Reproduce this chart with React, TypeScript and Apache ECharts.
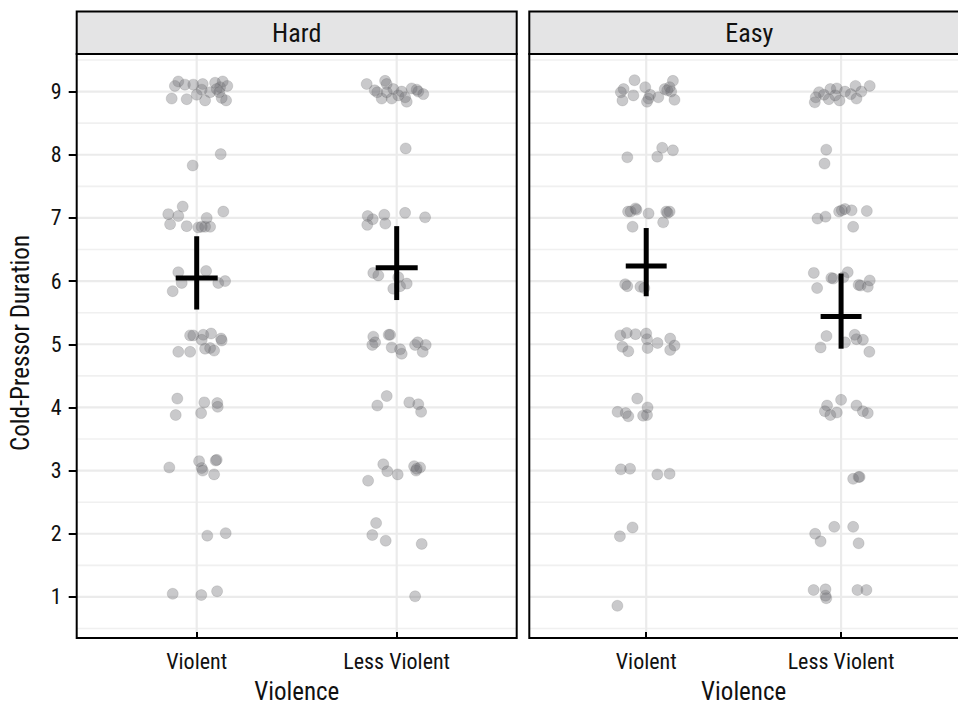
import React, { useEffect, useRef } from 'react';
import * as echarts from 'echarts';

// ---------- data ----------
const FACETS = ['Hard', 'Easy'];
const CATEGORIES = ['Violent', 'Less Violent'];
const Y_TICKS = [1, 2, 3, 4, 5, 6, 7, 8, 9];
const Y_MINOR = [0.5, 1.5, 2.5, 3.5, 4.5, 5.5, 6.5, 7.5, 8.5, 9.5];
const X_TITLE = 'Violence';
const Y_TITLE = 'Cold-Pressor Duration';

// jitter offsets (from category centre) and values
const hardViolentOffset = [-0.092, -0.109, -0.059, -0.017, 0.03, 0.025, 0.092, 0.13, 0.117, 0.153, 0.067, 0, -0.125, -0.05, 0.042, 0.125, 0.147, 0.113, 0.1, 0.12, -0.02, -0.07, -0.142, -0.092, -0.133, -0.05, 0.008, 0.042, 0.067, 0.05, 0.133, 0.025, -0.092, 0.047, -0.075, -0.12, 0.108, 0.142, -0.033, -0.017, 0.033, 0.072, 0.122, 0.125, 0.025, -0.092, -0.033, 0.042, 0.067, 0.087, -0.097, 0.038, 0.103, 0.105, -0.105, 0.022, -0.137, 0.012, 0.025, 0.03, 0.1, 0.095, 0.087, 0.053, 0.145, -0.12, 0.023, 0.102];
const hardViolentValue = [9.16, 9.09, 9.11, 9.11, 9.12, 9.03, 9.14, 9.16, 9.07, 9.09, 8.99, 8.95, 8.89, 8.88, 8.86, 8.9, 8.86, 8.99, 9.04, 8.01, 7.83, 7.18, 7.06, 7.03, 6.9, 6.87, 6.85, 6.86, 6.86, 7.0, 7.1, 6.86, 6.14, 6.16, 5.97, 5.84, 5.97, 6.0, 5.14, 5.14, 5.15, 5.17, 5.09, 5.06, 5.07, 4.88, 4.88, 4.93, 4.94, 4.9, 4.14, 4.08, 4.07, 4.01, 3.88, 3.91, 3.05, 3.15, 3.04, 3.0, 3.17, 3.16, 2.94, 1.97, 2.01, 1.05, 1.03, 1.09];

const hardLessOffset = [-0.15, -0.058, -0.05, -0.097, -0.075, -0.017, -0.025, 0.025, 0.05, 0.075, 0.108, 0.133, -0.11, 0.008, 0.042, -0.05, 0.1, 0.045, -0.145, -0.12, -0.147, -0.062, -0.057, 0.042, 0.142, -0.117, -0.092, 0.008, -0.017, 0.017, 0.05, -0.117, -0.108, -0.122, -0.033, -0.04, -0.025, 0.017, 0.025, 0.092, 0.105, 0.145, 0.13, -0.05, -0.097, 0.063, 0.108, 0.122, -0.067, -0.047, 0.005, -0.143, 0.087, 0.097, 0.117, 0.1, -0.103, -0.122, -0.055, 0.125, 0.092];
const hardLessValue = [9.12, 9.17, 9.12, 8.99, 8.89, 9.04, 8.89, 9.0, 8.84, 9.05, 9.0, 8.96, 9.02, 8.94, 8.91, 8.99, 9.03, 8.1, 7.03, 6.98, 6.89, 7.05, 6.91, 7.08, 7.01, 6.13, 6.09, 6.06, 5.88, 5.92, 5.96, 5.12, 5.03, 4.99, 5.15, 5.15, 4.95, 4.92, 4.85, 4.99, 5.03, 4.99, 4.88, 4.18, 4.03, 4.08, 4.05, 3.93, 3.1, 2.99, 2.94, 2.84, 3.07, 3.0, 3.05, 3.03, 2.17, 1.98, 1.89, 1.84, 1.01];

const easyViolentOffset = [-0.06, -0.116, -0.13, -0.122, -0.066, -0.005, 0.02, 0.004, 0.062, 0.095, 0.137, 0.12, 0.128, 0.145, 0.108, 0.012, -0.097, 0.057, 0.082, 0.137, -0.093, -0.08, -0.055, -0.05, 0.012, -0.07, 0.087, 0.103, 0.12, 0.11, -0.108, -0.097, -0.03, -0.01, -0.133, -0.1, -0.055, 0, 0.004, -0.122, -0.092, 0.007, 0.058, 0.123, 0.145, 0.123, -0.046, -0.147, -0.105, -0.092, -0.016, 0.007, 0.004, -0.13, -0.083, 0.057, 0.12, -0.07, -0.135, -0.148];
const easyViolentValue = [9.18, 9.04, 8.99, 8.86, 8.94, 9.07, 8.95, 8.84, 8.91, 9.04, 9.17, 9.07, 9.0, 8.87, 9.02, 8.89, 7.96, 7.97, 8.11, 8.07, 7.1, 7.1, 7.15, 7.13, 7.07, 6.86, 6.93, 7.1, 7.1, 7.08, 5.95, 5.92, 5.91, 5.89, 5.14, 5.18, 5.16, 5.17, 5.08, 4.96, 4.89, 4.94, 5.02, 5.09, 4.98, 4.91, 4.14, 3.93, 3.91, 3.86, 3.87, 4.0, 3.88, 3.02, 3.03, 2.94, 2.95, 2.1, 1.96, 0.86];

const easyLessOffset = [-0.135, -0.113, -0.088, -0.063, -0.055, -0.022, -0.03, -0.008, 0.02, 0.05, 0.074, 0.079, 0.104, 0.147, -0.13, -0.076, -0.085, -0.121, -0.08, -0.01, 0.004, 0.02, 0.054, 0.132, 0.062, -0.14, -0.123, -0.05, -0.04, 0.034, 0.012, 0.09, 0.137, 0.147, 0.1, -0.075, -0.105, 0.02, 0.07, 0.079, 0.112, 0.145, -0.072, -0.083, -0.055, -0.022, 0, 0.079, 0.112, 0.137, 0.062, 0.09, 0.095, -0.133, -0.105, -0.035, 0.062, 0.09, -0.141, -0.08, -0.08, -0.076, 0.084, 0.13];
const easyLessValue = [8.83, 8.99, 8.95, 8.88, 9.04, 9.05, 8.94, 8.86, 9.0, 8.96, 9.09, 8.89, 9.0, 9.09, 8.91, 8.08, 7.86, 6.99, 7.02, 7.1, 7.12, 7.14, 7.12, 7.11, 6.86, 6.13, 5.89, 6.05, 6.04, 6.14, 6.06, 5.94, 5.91, 6.01, 5.93, 5.13, 4.95, 5.03, 5.15, 5.08, 5.07, 4.88, 4.03, 3.94, 3.88, 3.92, 4.12, 4.03, 3.94, 3.91, 2.87, 2.9, 2.9, 2.0, 1.88, 2.11, 2.11, 1.85, 1.11, 1.12, 1.02, 0.98, 1.11, 1.11];

// summary (mean and interval) per category: [Violent, Less Violent]
const hardMean = [6.05, 6.21];
const hardLow = [5.55, 5.7];
const hardHigh = [6.71, 6.87];
const easyMean = [6.24, 5.44];
const easyLow = [5.76, 4.93];
const easyHigh = [6.84, 6.12];

// ---------- layout / style ----------
const W = 958;
const H = 709;
const PANEL_TOP = 54;
const PANEL_H = 584;
const PANEL_W = 440;
const PANEL_LEFT = [76.7, 529.3];
const STRIP_TOP = 11.5;
const X_MIN = 0.4;
const X_MAX = 2.6;
const Y_MIN = 0.445;
const Y_MAX = 9.595;
const CROSS_HALF = 0.105;
const FONT = "'Liberation Sans Narrow', 'Arial Narrow', 'Roboto Condensed', 'DejaVu Sans Condensed', sans-serif";
const TEXT = '#111111';
const GRID_COLOR = '#ebebeb';
const POINT_FILL = 'rgba(108,108,114,0.46)';
const POINT_EDGE = 'rgba(80,80,86,0.25)';

const groups = [
  [
    { off: hardViolentOffset, val: hardViolentValue },
    { off: hardLessOffset, val: hardLessValue },
  ],
  [
    { off: easyViolentOffset, val: easyViolentValue },
    { off: easyLessOffset, val: easyLessValue },
  ],
];
const summaries = [
  { mean: hardMean, low: hardLow, high: hardHigh },
  { mean: easyMean, low: easyLow, high: easyHigh },
];

function App() {
  const ref = useRef<HTMLDivElement>(null);

  useEffect(() => {
    if (!ref.current) return;
    const chart = echarts.init(ref.current, null, { renderer: 'svg' });

    const gridData: number[][] = [
      ...Y_TICKS.map((v) => [v, 0]),
      ...Y_MINOR.map((v) => [v, 1]),
      ...CATEGORIES.map((_, i) => [i + 1, 2]),
    ];

    const series: any[] = [];
    FACETS.forEach((_, fi) => {
      series.push({
        type: 'custom',
        xAxisIndex: fi,
        yAxisIndex: fi,
        z: 1,
        silent: true,
        data: gridData,
        renderItem: (params: any, api: any) => {
          const v = api.value(0);
          const kind = api.value(1);
          let p1, p2;
          if (kind === 2) {
            p1 = api.coord([v, Y_MIN]);
            p2 = api.coord([v, Y_MAX]);
          } else {
            p1 = api.coord([X_MIN, v]);
            p2 = api.coord([X_MAX, v]);
          }
          return {
            type: 'line',
            shape: { x1: p1[0], y1: p1[1], x2: p2[0], y2: p2[1] },
            style: { stroke: kind === 1 ? '#f0f0f0' : GRID_COLOR, lineWidth: kind === 1 ? 1.6 : 2.2 },
          };
        },
      });
      groups[fi].forEach((g, ci) => {
        series.push({
          type: 'scatter',
          xAxisIndex: fi,
          yAxisIndex: fi,
          z: 2,
          symbolSize: 11,
          itemStyle: { color: POINT_FILL, borderColor: POINT_EDGE, borderWidth: 0.8 },
          data: g.off.map((o, k) => [ci + 1 + o, g.val[k]]),
        });
      });
      const s = summaries[fi];
      series.push({
        type: 'custom',
        xAxisIndex: fi,
        yAxisIndex: fi,
        z: 3,
        silent: true,
        data: CATEGORIES.map((_, ci) => [ci + 1, s.mean[ci], s.low[ci], s.high[ci]]),
        renderItem: (params: any, api: any) => {
          const x = api.value(0);
          const m = api.value(1);
          const lo = api.value(2);
          const hi = api.value(3);
          const a = api.coord([x, lo]);
          const b = api.coord([x, hi]);
          const c = api.coord([x - CROSS_HALF, m]);
          const d = api.coord([x + CROSS_HALF, m]);
          return {
            type: 'group',
            children: [
              { type: 'line', shape: { x1: a[0], y1: a[1], x2: b[0], y2: b[1] }, style: { stroke: '#000', lineWidth: 5 } },
              { type: 'line', shape: { x1: c[0], y1: c[1], x2: d[0], y2: d[1] }, style: { stroke: '#000', lineWidth: 5 } },
            ],
          };
        },
      });
    });

    const graphic: any[] = [];
    FACETS.forEach((f, fi) => {
      const l = PANEL_LEFT[fi];
      graphic.push({
        type: 'rect',
        z: 100,
        silent: true,
        shape: { x: l, y: STRIP_TOP, width: PANEL_W, height: PANEL_TOP - STRIP_TOP },
        style: { fill: '#e4e4e5', stroke: '#000', lineWidth: 2 },
      });
      graphic.push({
        type: 'text',
        z: 101,
        silent: true,
        x: l + PANEL_W / 2,
        y: (STRIP_TOP + PANEL_TOP) / 2 + 0.5,
        style: { text: f, fill: TEXT, fontSize: 26, fontFamily: FONT, align: 'center', verticalAlign: 'middle' },
      });
      graphic.push({
        type: 'rect',
        z: 100,
        silent: true,
        shape: { x: l, y: PANEL_TOP, width: PANEL_W, height: PANEL_H },
        style: { fill: 'none', stroke: '#000', lineWidth: 2 },
      });
    });

    const option: any = {
      animation: false,
      backgroundColor: '#ffffff',
      grid: PANEL_LEFT.map((l) => ({ left: l, top: PANEL_TOP, width: PANEL_W, height: PANEL_H, containLabel: false })),
      xAxis: FACETS.map((_, fi) => ({
        type: 'value',
        gridIndex: fi,
        min: X_MIN,
        max: X_MAX,
        axisLine: { show: false },
        splitLine: { show: false },
        axisTick: { show: true, customValues: [1, 2], length: 6, lineStyle: { color: '#000', width: 2 } },
        axisLabel: {
          customValues: [1, 2],
          formatter: (v: number) => CATEGORIES[Math.round(v) - 1] ?? '',
          margin: 18,
          fontSize: 22,
          color: TEXT,
          fontFamily: FONT,
        },
        name: X_TITLE,
        nameLocation: 'middle',
        nameGap: 47,
        nameTextStyle: { fontSize: 25, color: TEXT, fontFamily: FONT },
      })),
      yAxis: FACETS.map((_, fi) => ({
        type: 'value',
        gridIndex: fi,
        min: Y_MIN,
        max: Y_MAX,
        axisLine: { show: false },
        splitLine: { show: false },
        axisTick: fi === 0
          ? { show: true, customValues: Y_TICKS, length: 8, lineStyle: { color: '#000', width: 2 } }
          : { show: false },
        axisLabel: fi === 0
          ? { show: true, customValues: Y_TICKS, margin: 15, fontSize: 22, color: TEXT, fontFamily: FONT }
          : { show: false },
        name: fi === 0 ? Y_TITLE : '',
        nameLocation: 'middle',
        nameGap: 44,
        nameRotate: 90,
        nameTextStyle: { fontSize: 25, color: TEXT, fontFamily: FONT },
      })),
      series,
      graphic,
    };

    chart.setOption(option);
    return () => chart.dispose();
  }, []);

  return (
    <div
      ref={ref}
      style={{ position: 'absolute', left: 0, top: 0, width: W, height: H, background: '#fff' }}
    />
  );
}

export default App;
